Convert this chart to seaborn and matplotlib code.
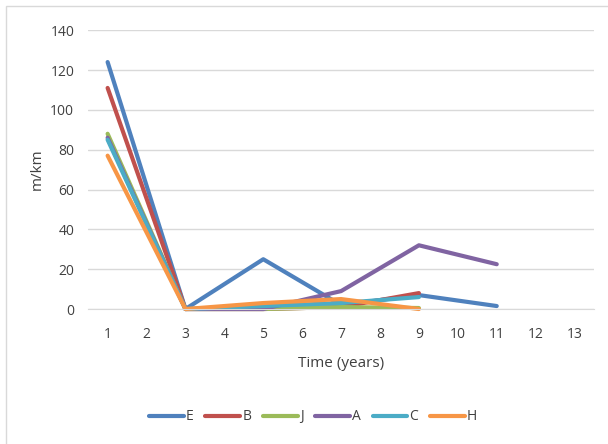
import matplotlib
matplotlib.use("Agg")
import matplotlib.pyplot as plt
import seaborn as sns
import pandas as pd

years = [1, 3, 5, 7, 9, 11]
series_names = ["E", "B", "J", "A", "C", "H"]
E = [124, 0, 25, 2, 7, 1.5]
B = [111, 0, 0, 1, 8, None]
J = [88, 0, 0, 1, 0.5, None]
A = [86, 0, 0, 9, 32, 22.5]
C = [85, 0, 1.5, 3, 6, None]
H = [77, 0, 3, 5, 0, None]
colors = ["#4F81BD", "#C0504D", "#9BBB59", "#8064A2", "#4BACC6", "#F79646"]

rows = []
for name, vals in zip(series_names, [E, B, J, A, C, H]):
    for x, v in zip(years, vals):
        if v is not None:
            rows.append({"Time": x, "value": v, "series": name})
df = pd.DataFrame(rows)

sns.set_style("white")
plt.rcParams["font.family"] = ["Open Sans", "DejaVu Sans"]

fig = plt.figure(figsize=(6.08, 4.44), dpi=100)
ax = fig.add_axes([0.145, 0.304, 0.832, 0.628])

sns.lineplot(data=df, x="Time", y="value", hue="series", hue_order=series_names,
             palette=colors, linewidth=3, ax=ax, legend=True)
for ln in ax.lines:
    ln.set_clip_on(False)
    ln.set_solid_joinstyle("round")

ax.set_xlim(0.5, 13.5)
ax.set_ylim(0, 140)
ax.set_xticks(range(1, 14))
ax.set_yticks(range(0, 141, 20))
ax.tick_params(axis="both", length=0, labelsize=10, colors="#404040")
ax.tick_params(axis="x", pad=13)
ax.tick_params(axis="y", pad=10)
ax.yaxis.grid(True, color="#D9D9D9", linewidth=1)
ax.xaxis.grid(False)
for s in ["top", "right", "left"]:
    ax.spines[s].set_visible(False)
ax.spines["bottom"].set_color("#D9D9D9")
ax.set_xlabel("Time (years)", fontsize=11, color="#404040", labelpad=10)
ax.set_ylabel("m/km", fontsize=11, color="#404040", labelpad=4)

handles, labels = ax.get_legend_handles_labels()
ax.legend_.remove()
for h in handles:
    h.set_solid_capstyle("round")
fig.legend(handles, labels, loc="center", bbox_to_anchor=(0.515, 0.061), ncol=6,
           frameon=False, fontsize=10, handlelength=2.5, columnspacing=0.85,
           handletextpad=0.15, labelcolor="#404040")

# chart area frame (only left and top edges fall inside the image)
fig.patches.append(plt.Rectangle((6 / 608, -0.1), 1.2, 1 - 6 / 444 + 0.1,
                                 transform=fig.transFigure, fill=False,
                                 edgecolor="#D9D9D9", linewidth=1))

fig.savefig("out.png", dpi=100)
